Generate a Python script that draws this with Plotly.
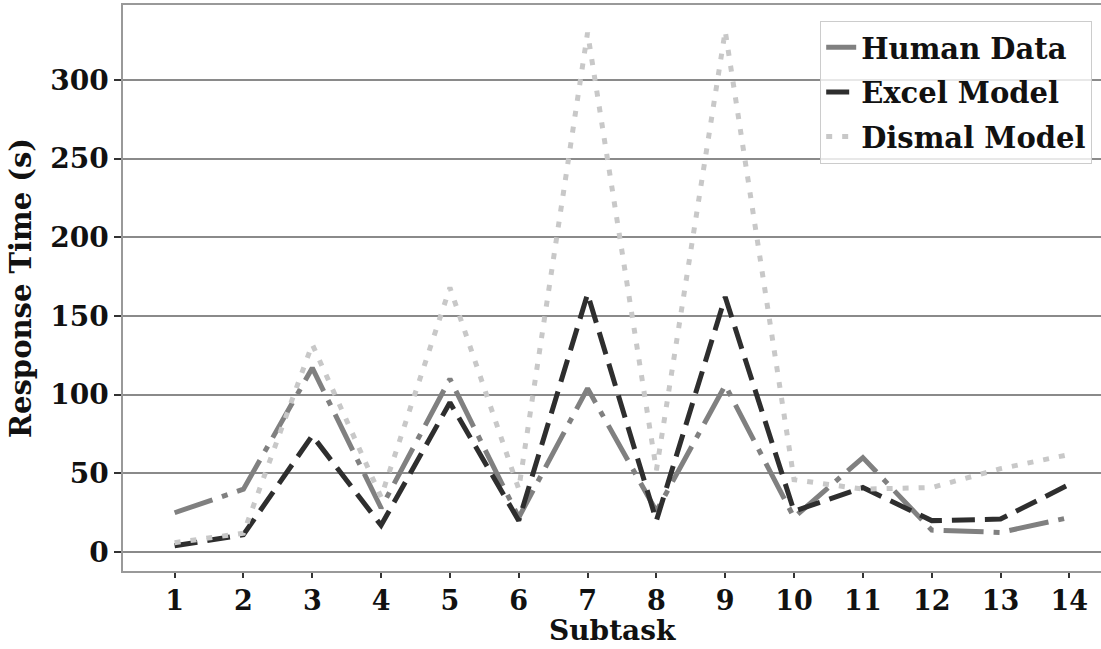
import plotly.graph_objects as go

subtasks = list(range(1, 15))
human_data = [25, 40, 117, 28, 110, 22, 104, 26, 106, 22, 60, 14, 12.5, 22]
excel_model = [4, 11, 74, 17, 95, 20, 164, 20, 162, 26, 41, 20, 21, 43]
dismal_model = [6, 12, 132, 35, 168, 40, 330, 52, 331, 46, 40, 41, 53, 62]
y_ticks = [0, 50, 100, 150, 200, 250, 300]

FONT = "DejaVu Serif"
W, H = 1101, 649
ML, MR, MT, MB = 123, 0, 5, 78
plot_h = H - MT - MB

fig = go.Figure()
fig.add_trace(go.Scatter(x=subtasks, y=human_data, mode="lines", name="<b>Human Data</b>",
                         legendgroup="h",
                         line=dict(color="#808080", width=5, dash="40px,10px,6px,10px")))
fig.add_trace(go.Scatter(x=subtasks, y=excel_model, mode="lines", name="<b>Excel Model</b>",
                         legendgroup="e",
                         line=dict(color="#2e2e2e", width=5, dash="23px,10px")))
fig.add_trace(go.Scatter(x=subtasks, y=dismal_model, mode="lines", name="<b>Dismal Model</b>",
                         legendgroup="d",
                         line=dict(color="#c8c8c8", width=5, dash="6px,10px")))

fig.update_layout(
    width=W, height=H,
    margin=dict(l=ML, r=MR, t=MT, b=MB),
    paper_bgcolor="white", plot_bgcolor="white",
    font=dict(family=FONT, size=28, color="#111"),
    legend=dict(x=0.991, y=0.972, xanchor="right", yanchor="top",
                bgcolor="rgba(255,255,255,0.8)", bordercolor="#cccccc", borderwidth=1,
                tracegroupgap=4,
                font=dict(family=FONT, size=29, color="#111")),
    showlegend=True,
    annotations=[dict(text="<b>Subtask</b>", xref="paper", yref="paper",
                      x=0.5, y=-(H - (H - MB)) / plot_h,
                      xanchor="center", yanchor="bottom", showarrow=False,
                      font=dict(family=FONT, size=28, color="#111"))],
)
fig.update_xaxes(
    range=[0.25, 14.46], tickmode="array", tickvals=subtasks,
    ticktext=[f"<b>{s}</b>" for s in subtasks],
    tickfont=dict(family=FONT, size=27, color="#111"),
    showgrid=False, zeroline=False,
    showline=True, linecolor="#999999", linewidth=1.5, mirror=True,
    ticks="outside", ticklen=5, tickcolor="#333", tickwidth=1.5,
)
fig.update_yaxes(
    range=[-12, 347.5], tickmode="array", tickvals=y_ticks,
    ticktext=[f"<b>{v}</b>" for v in y_ticks],
    tickfont=dict(family=FONT, size=28, color="#111"),
    showgrid=True, gridcolor="#8a8a8a", gridwidth=1.5, zeroline=False,
    showline=True, linecolor="#999999", linewidth=1.5,
    ticks="outside", ticklen=7, tickcolor="#333", tickwidth=1.5,
    title=dict(text="<b>Response Time (s)</b>", standoff=10, font=dict(family=FONT, size=29)),
)

fig.write_html("out.html")
